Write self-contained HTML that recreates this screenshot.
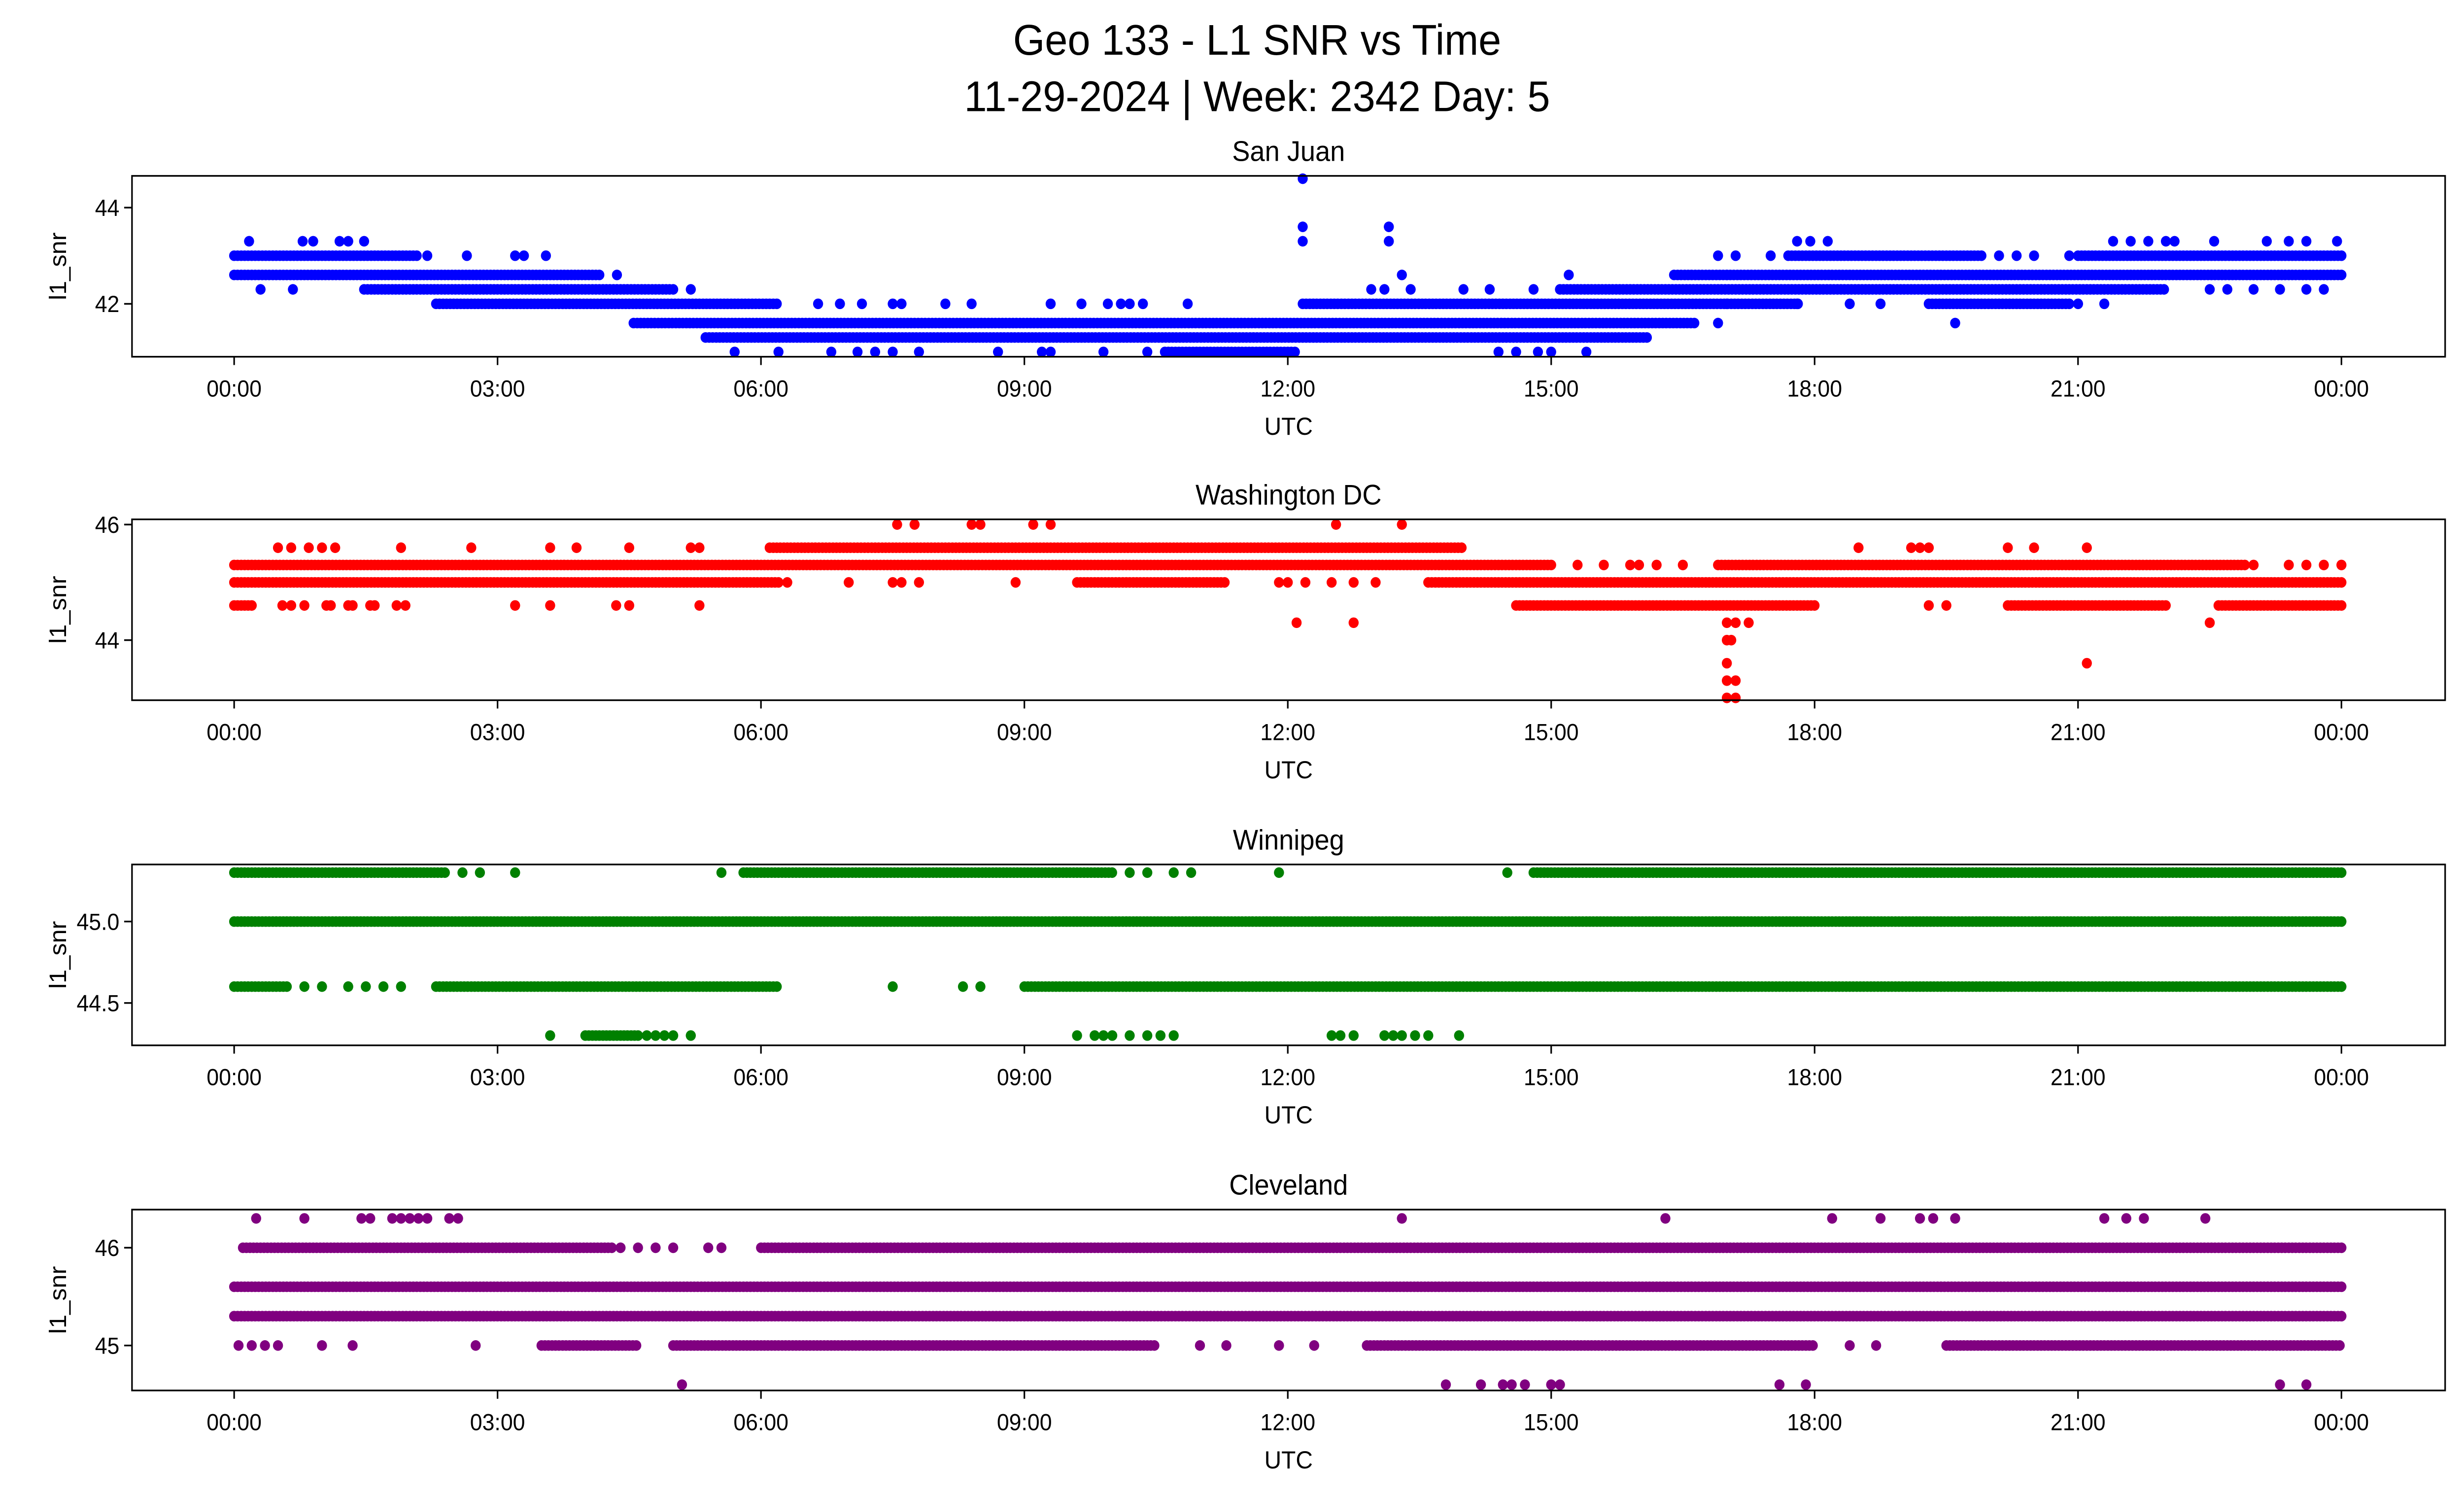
<!DOCTYPE html>
<html><head><meta charset="utf-8"><style>html,body{margin:0;padding:0;background:#fff;width:100%;height:100%;overflow:hidden}svg{display:block;width:100vw;height:100vh}text{font-family:"Liberation Sans","DejaVu Sans",sans-serif}</style></head>
<body>
<svg id="chart" viewBox="0 0 1568 901" preserveAspectRatio="none" xmlns="http://www.w3.org/2000/svg">
<rect width="1568" height="901" fill="#fff"/>
<text x="800" y="33" font-size="26" text-anchor="middle">Geo 133 - L1 SNR vs Time</text>
<text x="800" y="67" font-size="26" text-anchor="middle">11-29-2024 | Week: 2342 Day: 5</text>
<g id="panels"></g>
</svg>
<script>
const xTickLabels = ["00:00","03:00","06:00","09:00","12:00","15:00","18:00","21:00","00:00"];
const xTickHours = [0,3,6,9,12,15,18,21,24];
const panelNames = ["San Juan","Washington DC","Winnipeg","Cleveland"];
const panelColors = ["#0000ff","#ff0000","#008000","#800080"];

// San Juan
const sjRuns = [[43.0,0,2.08],[42.6,0,4.18],[42.3,1.48,5.0],[42.0,2.3,6.2],[41.6,4.55,16.65],[41.3,5.37,16.1],[41.0,10.6,12.1],
 [42.0,12.17,17.83],[42.0,19.3,20.9],[42.3,15.1,22.0],[42.6,16.4,24],[43.0,17.7,19.9],[43.0,21.0,24]];
const sjDots = [[0.17,43.3],[0.78,43.3],[0.9,43.3],[1.2,43.3],[1.3,43.3],[1.48,43.3],[2.2,43.0],[2.65,43.0],[3.2,43.0],[3.3,43.0],[3.55,43.0],[4.36,42.6],[0.3,42.3],[0.67,42.3],[5.2,42.3],
 [6.65,42.0],[6.9,42.0],[7.15,42.0],[7.5,42.0],[7.6,42.0],[8.1,42.0],[8.4,42.0],[9.3,42.0],[9.65,42.0],[9.95,42.0],[10.1,42.0],[10.2,42.0],[10.35,42.0],[10.86,42.0],
 [5.7,41.0],[6.2,41.0],[6.8,41.0],[7.1,41.0],[7.3,41.0],[7.5,41.0],[7.8,41.0],[8.7,41.0],[9.2,41.0],[9.3,41.0],[9.9,41.0],[10.4,41.0],
 [14.4,41.0],[14.6,41.0],[14.85,41.0],[15.0,41.0],[15.4,41.0],[16.9,41.6],[19.6,41.6],
 [12.17,44.6],[12.17,43.6],[13.15,43.6],[12.17,43.3],[13.15,43.3],[13.3,42.6],[15.2,42.6],[17.0,42.6],
 [12.95,42.3],[13.1,42.3],[13.4,42.3],[14.0,42.3],[14.3,42.3],[14.8,42.3],[22.5,42.3],[22.7,42.3],[23.0,42.3],[23.3,42.3],[23.6,42.3],[23.8,42.3],
 [17.0,42.0],[17.8,42.0],[18.4,42.0],[18.75,42.0],[21.0,42.0],[21.3,42.0],
 [16.9,43.0],[17.1,43.0],[17.5,43.0],[20.1,43.0],[20.3,43.0],[20.5,43.0],[20.9,43.0],
 [17.8,43.3],[17.95,43.3],[18.15,43.3],[21.4,43.3],[21.6,43.3],[21.8,43.3],[22.0,43.3],[22.1,43.3],[22.55,43.3],[23.15,43.3],[23.4,43.3],[23.6,43.3],[23.95,43.3]];

// Washington DC
const dcRuns = [[45.3,0,15.0],[45.3,16.9,22.9],[45.6,6.1,14.0],[45.0,0,6.2],[45.0,9.6,11.3],[45.0,13.6,24],[44.6,0,0.2],[44.6,14.6,18.0],[44.6,20.2,22.0],[44.6,22.6,24]];
const dcDots = [[0.5,45.6],[0.65,45.6],[0.85,45.6],[1.0,45.6],[1.15,45.6],[1.9,45.6],[2.7,45.6],[3.6,45.6],[3.9,45.6],[4.5,45.6],[5.2,45.6],[5.3,45.6],
 [18.5,45.6],[19.1,45.6],[19.2,45.6],[19.3,45.6],[20.2,45.6],[20.5,45.6],[21.1,45.6],
 [7.55,46.0],[7.75,46.0],[8.4,46.0],[8.5,46.0],[9.1,46.0],[9.3,46.0],[12.55,46.0],[13.3,46.0],
 [6.3,45.0],[7.0,45.0],[7.5,45.0],[7.6,45.0],[7.8,45.0],[8.9,45.0],[11.9,45.0],[12.0,45.0],[12.2,45.0],[12.5,45.0],[12.75,45.0],[13.0,45.0],
 [15.3,45.3],[15.6,45.3],[15.9,45.3],[16.0,45.3],[16.2,45.3],[16.5,45.3],[23.0,45.3],[23.4,45.3],[23.6,45.3],[23.8,45.3],[24.0,45.3],
 [0.55,44.6],[0.65,44.6],[0.8,44.6],[1.05,44.6],[1.1,44.6],[1.3,44.6],[1.35,44.6],[1.55,44.6],[1.6,44.6],[1.85,44.6],[1.95,44.6],[3.2,44.6],[3.6,44.6],[4.35,44.6],[4.5,44.6],[5.3,44.6],[19.3,44.6],[19.5,44.6],
 [12.1,44.3],[12.75,44.3],[17.25,44.3],[22.5,44.3],[17.0,44.0],[17.05,44.0],[17.0,43.6],[21.1,43.6],[17.0,43.3],[17.1,43.3],[17.0,43.0],[17.1,43.0],[17.0,44.3],[17.1,44.3]];

// Winnipeg
const wpRuns = [[45.3,0,2.4],[45.3,5.8,10.0],[45.3,14.8,24],[45.0,0,24],[44.6,0,0.6],[44.6,2.3,6.2],[44.6,9.0,24],[44.3,4.0,4.6]];
const wpDots = [[2.6,45.3],[2.8,45.3],[3.2,45.3],[5.55,45.3],[10.2,45.3],[10.4,45.3],[10.7,45.3],[10.9,45.3],[11.9,45.3],[14.5,45.3],
 [0.8,44.6],[1.0,44.6],[1.3,44.6],[1.5,44.6],[1.7,44.6],[1.9,44.6],[7.5,44.6],[8.3,44.6],[8.5,44.6],
 [3.6,44.3],[4.7,44.3],[4.8,44.3],[4.9,44.3],[5.0,44.3],[5.2,44.3],[9.6,44.3],[9.8,44.3],[9.9,44.3],[10.0,44.3],[10.2,44.3],[10.4,44.3],[10.55,44.3],[10.7,44.3],
 [12.5,44.3],[12.6,44.3],[12.75,44.3],[13.1,44.3],[13.2,44.3],[13.3,44.3],[13.45,44.3],[13.6,44.3],[13.95,44.3]];

// Cleveland
const clRuns = [[46.0,0.1,4.3],[46.0,6.0,24],[45.6,0,24],[45.3,0,24],[45.0,3.5,4.6],[45.0,5.0,10.5],[45.0,12.9,18.0],[45.0,19.5,24]];
const clDots = [[0.25,46.3],[0.8,46.3],[1.45,46.3],[1.55,46.3],[1.8,46.3],[1.9,46.3],[2.0,46.3],[2.1,46.3],[2.2,46.3],[2.45,46.3],[2.55,46.3],[13.3,46.3],[16.3,46.3],[18.2,46.3],[18.75,46.3],[19.2,46.3],[19.35,46.3],[19.6,46.3],[21.3,46.3],[21.55,46.3],[21.75,46.3],[22.45,46.3],
 [4.4,46.0],[4.6,46.0],[4.8,46.0],[5.0,46.0],[5.4,46.0],[5.55,46.0],
 [0.05,45.0],[0.2,45.0],[0.35,45.0],[0.5,45.0],[1.0,45.0],[1.35,45.0],[2.75,45.0],[11.0,45.0],[11.3,45.0],[11.9,45.0],[12.3,45.0],[18.4,45.0],[18.7,45.0],
 [5.1,44.6],[13.8,44.6],[14.2,44.6],[14.45,44.6],[14.55,44.6],[14.7,44.6],[15.0,44.6],[15.1,44.6],[17.6,44.6],[17.9,44.6],[23.3,44.6],[23.6,44.6]];

const yTickLabels = [["44","42"],["46","44"],["45.0","44.5"],["46","45"]];
const yTickValues = [[44,42],[46,44],[45.0,44.5],[46,45]];
const yDomains = [[40.9,44.66],[42.96,46.09],[44.24,45.35],[44.54,46.39]];
const allRuns = [sjRuns, dcRuns, wpRuns, clRuns];
const allDots = [sjDots, dcDots, wpDots, clDots];

const NS = "http://www.w3.org/2000/svg";
const panelTops = [106, 313, 521, 729];
const PH = 109, PL = 84, PR = 1556;
const xScale = h => 149 + h * (1490 - 149) / 24;
function mk(tag, attrs, parent) { const e = document.createElementNS(NS, tag); for (const k in attrs) e.setAttribute(k, attrs[k]); parent.appendChild(e); return e; }
const root = document.getElementById("panels");

panelNames.forEach((name, i) => {
  const top = panelTops[i], bot = top + PH;
  const [d0, d1] = yDomains[i];
  const yScale = v => bot - (v - d0) / (d1 - d0) * PH;
  const g = mk("g", {}, root);
  
  
  const t = mk("text", {x: (PL + PR) / 2, y: top - 9, "font-size": 17, "text-anchor": "middle"}, g);
  t.textContent = name;
  
  
  const pts = mk("g", {fill: panelColors[i]}, g);
  
  
  const dot = (h, v) => {
    const c = mk("circle", {cx: xScale(h).toFixed(1), cy: yScale(v).toFixed(1), r: 3.2}, pts);
    
    
  };
  allRuns[i].forEach(([v, a, b]) => { for (let h = a; h <= b + 1e-9; h += 0.04) dot(h, v); });
  allDots[i].forEach(([h, v]) => dot(h, v));
  const frame = mk("rect", {x: PL, y: top, width: PR - PL, height: PH, fill: "none", stroke: "#000", "stroke-width": 1}, g);
  
  
  xTickHours.forEach((h, k) => {
    const x = xScale(h);
    mk("line", {x1: x, x2: x, y1: bot, y2: bot + 5, stroke: "#000", "stroke-width": 1}, g);
    const tl = mk("text", {x: x, y: bot + 24, "font-size": 14, "text-anchor": "middle"}, g);
    tl.textContent = xTickLabels[k];
    
    
  });
  yTickValues[i].forEach((v, k) => {
    const y = yScale(v);
    mk("line", {x1: PL - 5, x2: PL, y1: y, y2: y, stroke: "#000", "stroke-width": 1}, g);
    const tl = mk("text", {x: PL - 8, y: y + 5, "font-size": 14, "text-anchor": "end"}, g);
    tl.textContent = yTickLabels[i][k];
    
    
  });
  const xl = mk("text", {x: (PL + PR) / 2, y: bot + 47, "font-size": 15, "text-anchor": "middle"}, g);
  xl.textContent = "UTC";
  
  
  const cy = top + PH / 2;
  const yl = mk("text", {x: 42, y: cy, "font-size": 15, "text-anchor": "middle", transform: `rotate(-90 42 ${cy})`}, g);
  yl.textContent = "l1_snr";
  
  
});
</script>
</body></html>
